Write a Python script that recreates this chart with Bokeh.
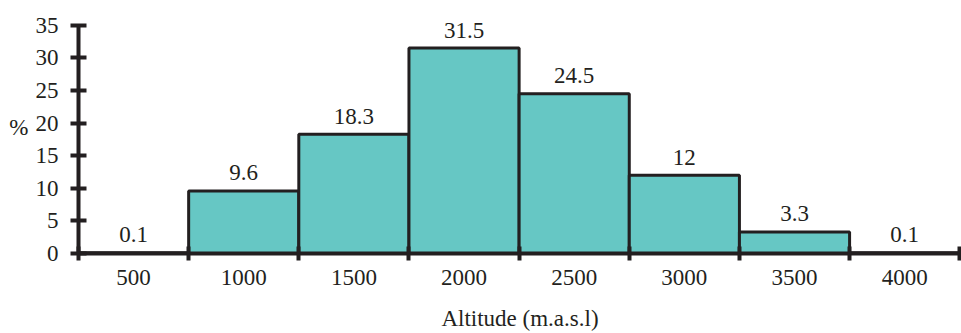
from bokeh.plotting import figure
from bokeh.models import ColumnDataSource, FixedTicker, Range1d
from bokeh.core.properties import value
from bokeh.embed import file_html
from bokeh.resources import INLINE

altitudes = [500, 1000, 1500, 2000, 2500, 3000, 3500, 4000]
percent = [0.1, 9.6, 18.3, 31.5, 24.5, 12, 3.3, 0.1]
labels = ["0.1", "9.6", "18.3", "31.5", "24.5", "12", "3.3", "0.1"]
bin_width = 500
y_ticks = [0, 5, 10, 15, 20, 25, 30, 35]

FONT = "Liberation Serif"
INK = "#231f20"
FILL = "#66c7c4"
FS = "23px"

src = ColumnDataSource(dict(x=altitudes, top=percent, label=labels))

p = figure(width=961, height=333, output_backend="svg", toolbar_location=None,
           x_range=Range1d(250, 4258), y_range=Range1d(0, 38.8),
           min_border_left=78, min_border_right=0, min_border_top=0, min_border_bottom=79)
p.outline_line_color = None
p.grid.grid_line_color = None
p.background_fill_color = "white"

p.vbar(x="x", top="top", bottom=0, width=bin_width, source=src,
       fill_color=FILL, line_color=INK, line_width=3)
p.text(x="x", y="top", text="label", source=src, text_align="center",
       text_baseline="middle", y_offset=-18, text_font=value(FONT),
       text_font_size=FS, text_color=INK)

xa = p.xaxis[0]
xa.ticker = FixedTicker(ticks=altitudes,
                        minor_ticks=[a - bin_width / 2 for a in altitudes] + [altitudes[-1] + bin_width / 2])
xa.bounds = (250, 4258)
xa.axis_line_width = 4
xa.axis_line_color = INK
xa.major_tick_in = 0
xa.major_tick_out = 0
xa.minor_tick_in = 7
xa.minor_tick_out = 7
xa.minor_tick_line_width = 4
xa.minor_tick_line_color = INK
xa.major_label_text_font = FONT
xa.major_label_text_font_size = FS
xa.major_label_text_color = INK
xa.major_label_standoff = 9
xa.axis_label = "Altitude (m.a.s.l)"
xa.axis_label_text_font = FONT
xa.axis_label_text_font_size = FS
xa.axis_label_text_font_style = "normal"
xa.axis_label_text_color = INK
xa.axis_label_standoff = 18

ya = p.yaxis[0]
ya.ticker = FixedTicker(ticks=y_ticks)
ya.bounds = (0, 35)
ya.axis_line_width = 4
ya.axis_line_color = INK
ya.major_tick_in = 8
ya.major_tick_out = 8
ya.major_tick_line_width = 4
ya.major_tick_line_color = INK
ya.minor_tick_line_color = None
ya.major_label_text_font = FONT
ya.major_label_text_font_size = FS
ya.major_label_text_color = INK
ya.major_label_standoff = 12
ya.axis_label = "%"
ya.axis_label_orientation = "horizontal"
ya.axis_label_text_font = FONT
ya.axis_label_text_font_size = FS
ya.axis_label_text_font_style = "normal"
ya.axis_label_text_color = INK
ya.axis_label_standoff = 4

open("out.html", "w").write(file_html(p, INLINE))
